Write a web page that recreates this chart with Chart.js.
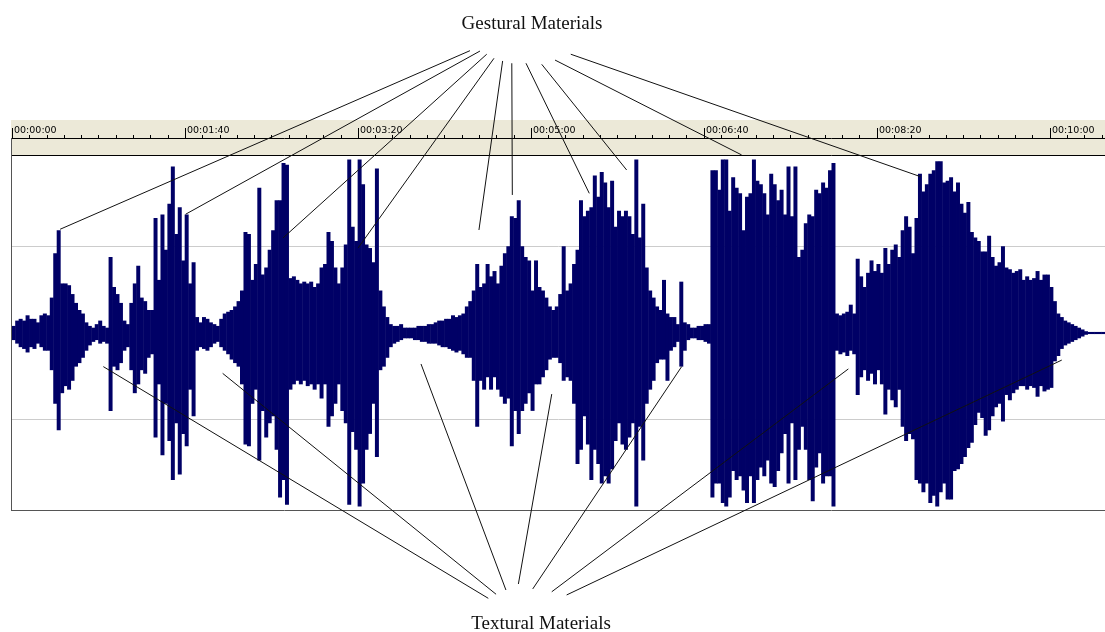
<!DOCTYPE html>
<html>
<head>
<meta charset="utf-8">
<title>Gestural and Textural Materials</title>
<script src="https://cdn.jsdelivr.net/npm/chart.js@4.4.1/dist/chart.umd.min.js"></script>
<style>
  html, body { margin: 0; padding: 0; background: #fff; }
  #wrap { width: 1105px; height: 632px; }
</style>
</head>
<body>
<div id="wrap"><canvas id="wave" width="1105" height="632"></canvas></div>
<script>
// ----- Data (amplitude in % of full scale, one envelope bin = 2 s) -----
const binSeconds = 2;

const peakTop = [
  4,7,8,7,10,8,8,6,10,11,10,
  20,45,58,28,28,27,22,17,13,11,
  6,4,3,5,7,4,3,43,26,22,
  17,7,5,17,28,38,20,18,13,13,
  65,30,67,47,73,94,56,71,41,67,
  28,40,9,6,9,8,6,5,4,8,
  11,12,13,15,18,24,57,56,30,39,
  82,33,37,47,58,75,75,96,95,31,
  32,30,28,29,28,29,26,28,37,39,
  57,52,37,28,37,50,98,60,52,98,
  84,50,48,40,93,24,15,9,5,4,
  4,5,3,3,3,3,4,4,4,5,
  5,6,7,7,8,8,10,9,10,11,
  15,18,24,39,26,28,39,32,35,28,
  38,45,49,66,65,75,49,43,41,24,
  41,26,24,20,15,13,15,22,49,24,
  28,39,47,75,66,69,71,89,77,91,
  85,71,86,60,69,66,69,66,56,98,
  54,73,37,24,20,15,13,30,11,9,
  9,5,29,6,5,3,3,4,4,5,
  5,92,92,81,98,98,69,88,82,79,
  58,77,79,98,86,84,79,67,90,84,
  75,81,67,94,66,94,43,47,62,67,
  66,81,79,85,82,92,96,11,10,11,
  12,16,11,42,32,26,34,41,35,39,
  34,48,39,47,50,43,58,66,60,45,
  65,90,80,84,90,92,97,97,85,86,
  88,80,85,73,68,74,57,54,52,46,
  46,55,43,38,40,49,37,36,34,35,
  36,30,32,30,31,35,30,33,33,26,
  18,11,9,7,6,5,4,3,2,1,
  0.6,0.6,0.6,0.6,0.6
];

const peakBottom = [
  4,6,8,9,11,8,9,6,8,10,10,
  21,40,55,34,30,32,27,19,17,14,
  10,7,5,4,6,5,6,44,19,21,
  17,10,8,21,34,29,21,23,14,12,
  59,29,69,40,61,83,51,80,57,64,
  32,47,10,8,9,10,8,6,5,8,
  10,12,15,17,19,29,63,64,40,32,
  72,44,59,51,47,66,93,83,97,32,
  29,27,29,27,30,29,32,29,37,29,
  53,47,40,29,44,51,97,56,66,98,
  85,66,57,40,70,21,19,14,8,6,
  5,4,3,3,3,4,4,5,5,6,
  6,6,7,8,8,9,10,11,10,12,
  14,14,27,53,27,32,25,32,25,32,
  36,40,37,64,44,57,44,40,34,44,
  29,29,25,21,15,14,14,17,27,25,
  27,40,74,66,47,63,83,66,74,85,
  81,85,77,61,51,63,66,59,51,98,
  53,72,40,32,27,17,15,15,27,10,
  8,5,19,10,4,3,3,4,4,5,
  6,93,85,85,96,98,93,78,83,81,
  89,96,81,96,83,76,81,72,85,87,
  78,68,57,85,51,83,66,53,66,83,
  95,76,68,85,81,81,98,10,12,11,
  13,10,12,35,25,21,27,23,29,21,
  29,46,32,38,42,32,53,61,57,60,
  83,85,90,85,96,92,98,90,85,94,
  94,78,77,74,70,65,62,52,45,48,
  58,55,47,42,40,50,35,38,34,32,
  30,30,32,30,31,36,30,33,32,31,
  16,13,9,7,6,5,4,3,2,1,
  0.6,0.6,0.6,0.6,0.6
];

const totalSeconds = 632;
const gridLevels = [-49, 49];

// timeline ruler
const rulerSeconds = [0, 100, 200, 300, 400, 500, 600];
const rulerLabels  = ['00:00:00','00:01:40','00:03:20','00:05:00','00:06:40','00:08:20','00:10:00'];
const rulerMinorStep = 10;

// callouts: [seconds, amplitude %]
const titles = ['Gestural Materials', 'Textural Materials'];
const titleAnchors = [[300.7, 171.8], [305.9, -167.2]];
const gesturalPeaks = [
  [27.8,58.6],[100.4,67.1],[156.7,53.7],[200.1,48.0],[270.0,58.2],
  [289.3,78.0],[333.8,78.9],[355.4,92.1],[421.9,100.6],[525.4,88.3]
];
const gesturalFeet = [
  [264.8,159.5],[270.6,159.3],[274.5,157.5],[278.7,155.2],[283.7,153.7],
  [289.0,152.4],[297.2,152.4],[306.3,151.8],[314.0,154.2],[323.1,157.5]
];
const texturalPoints = [
  [52.8,-19.0],[121.8,-22.8],[236.5,-17.5],[312.1,-34.5],
  [387.2,-19.0],[483.6,-20.3],[607.0,-15.3]
];
const texturalFeet = [
  [275.4,-149.9],[279.9,-147.6],[285.6,-145.2],[292.8,-141.8],
  [301.1,-144.6],[312.1,-146.2],[320.7,-148.0]
];

// ----- Plugins -----
const rulerFrame = {
  id: 'rulerFrame',
  beforeDraw(chart) {
    const { ctx, chartArea: a, scales: { x } } = chart;
    ctx.save();
    ctx.fillStyle = '#ece9d8';
    ctx.fillRect(a.left - 1, 120, a.right - a.left + 1, a.top - 120);

    ctx.strokeStyle = '#000';
    ctx.lineWidth = 1;
    ctx.beginPath();
    ctx.moveTo(a.left - 1, 138.5); ctx.lineTo(a.right, 138.5);
    ctx.moveTo(a.left - 1, a.top - 0.5); ctx.lineTo(a.right, a.top - 0.5);
    for (let t = 0; t <= totalSeconds; t += rulerMinorStep) {
      const px = Math.round(x.getPixelForValue(t)) + 0.5;
      ctx.moveTo(px, 135); ctx.lineTo(px, 138);
    }
    rulerSeconds.forEach(t => {
      const px = Math.round(x.getPixelForValue(t)) + 0.5;
      ctx.moveTo(px, 128); ctx.lineTo(px, 138);
    });
    ctx.stroke();

    ctx.fillStyle = '#000';
    ctx.font = '9.5px "DejaVu Sans", Tahoma, sans-serif';
    ctx.textAlign = 'left';
    ctx.textBaseline = 'alphabetic';
    rulerSeconds.forEach((t, i) => {
      ctx.fillText(rulerLabels[i], Math.round(x.getPixelForValue(t)) + 2, 133);
    });

    // plot frame
    ctx.strokeStyle = '#555';
    ctx.beginPath();
    ctx.moveTo(a.left - 0.5, 138); ctx.lineTo(a.left - 0.5, a.bottom + 1);
    ctx.moveTo(a.left - 1, a.bottom + 0.5); ctx.lineTo(a.right, a.bottom + 0.5);
    ctx.stroke();
    ctx.restore();
  }
};

const callouts = {
  id: 'callouts',
  afterDatasetsDraw(chart) {
    const { ctx, scales: { x, y } } = chart;
    const px = p => [x.getPixelForValue(p[0]), y.getPixelForValue(p[1])];
    ctx.save();
    ctx.strokeStyle = '#111';
    ctx.lineWidth = 1;
    ctx.beginPath();
    const link = (from, to) => from.forEach((p, i) => {
      const a = px(p), b = px(to[i]);
      ctx.moveTo(a[0], a[1]); ctx.lineTo(b[0], b[1]);
    });
    link(gesturalPeaks, gesturalFeet);
    link(texturalPoints, texturalFeet);
    ctx.stroke();

    ctx.fillStyle = '#111';
    ctx.font = '19px "Liberation Serif", "Times New Roman", serif';
    ctx.textAlign = 'center';
    ctx.textBaseline = 'alphabetic';
    titles.forEach((t, i) => {
      const p = px(titleAnchors[i]);
      ctx.fillText(t, p[0], p[1]);
    });
    ctx.restore();
  }
};

// ----- Chart -----
window.addEventListener('DOMContentLoaded', () => {
  const points = peakTop.map((top, i) => ({
    x: i * binSeconds + binSeconds / 2,
    y: [-peakBottom[i], top]
  }));

  new Chart(document.getElementById('wave'), {
    type: 'bar',
    data: {
      datasets: [{
        data: points,
        backgroundColor: '#000066',
        borderWidth: 0,
        barPercentage: 1.15,
        categoryPercentage: 1
      }]
    },
    options: {
      responsive: false,
      animation: false,
      events: [],
      layout: { padding: { left: 12, right: 0, top: 156, bottom: 122 } },
      plugins: { legend: { display: false }, tooltip: { enabled: false } },
      scales: {
        x: { type: 'linear', min: 0, max: totalSeconds, offset: false, display: false },
        y: {
          min: -100, max: 100,
          border: { display: false },
          grid: { color: '#cccccc', lineWidth: 1, drawTicks: false },
          ticks: { display: false },
          afterBuildTicks: s => { s.ticks = gridLevels.map(v => ({ value: v })); },
          afterFit: s => { s.width = 0; }
        }
      }
    },
    plugins: [rulerFrame, callouts]
  });
});
</script>
</body>
</html>
